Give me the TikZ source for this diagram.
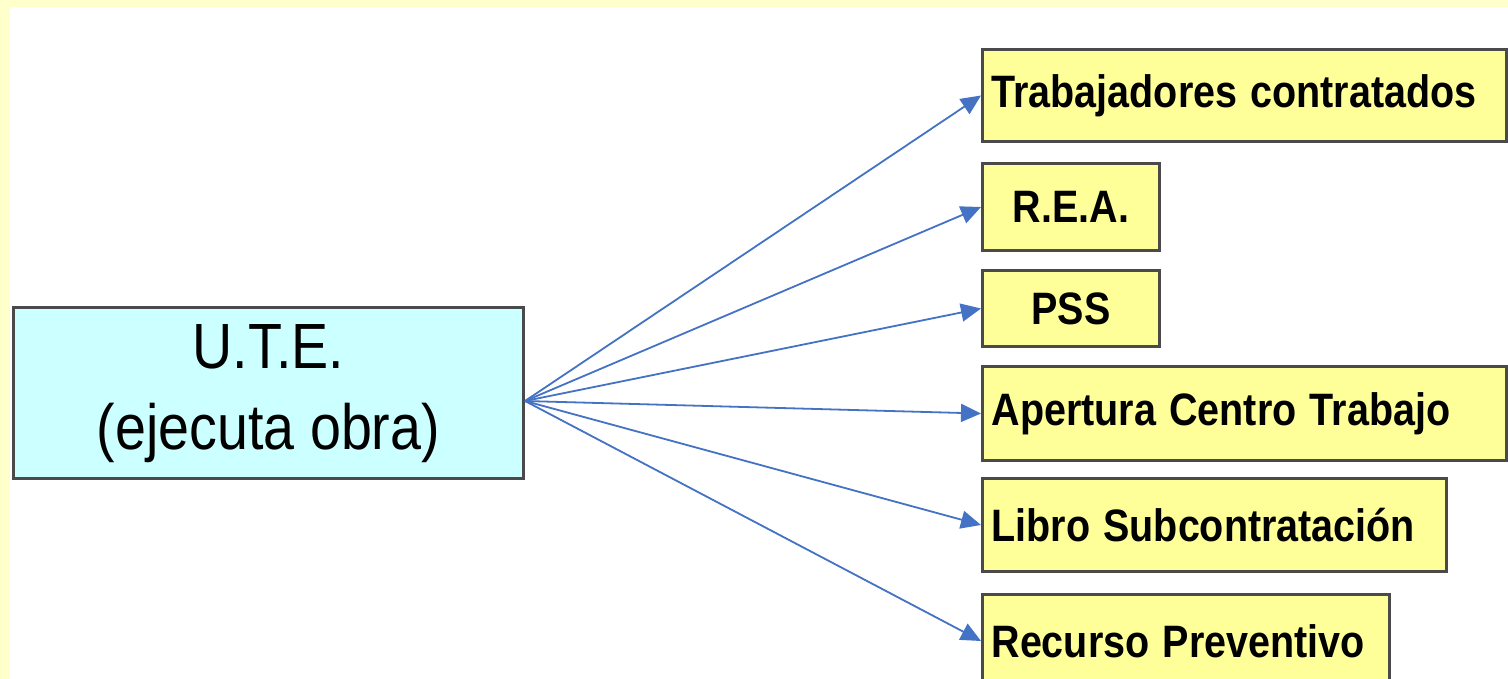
\documentclass[tikz,border=0pt]{standalone}
\usepackage{fontspec}
\setmainfont{Liberation Sans}
\usepackage{graphicx}
\usetikzlibrary{arrows.meta,calc}
\definecolor{cream}{HTML}{FFFFCC}
\definecolor{yfill}{HTML}{FFFF99}
\definecolor{cfill}{HTML}{CCFFFF}
\definecolor{boxline}{HTML}{4A4A4A}
\definecolor{arrblue}{HTML}{4472C4}
\newcommand\vst[1]{\scalebox{1}[1.15]{#1}}
\begin{document}
\begin{tikzpicture}[x=1pt,y=-1pt,
  ybox/.style={draw=boxline, line width=3pt, fill=yfill, anchor=north west,
    inner xsep=9pt, inner ysep=0pt, font=\fontsize{39.5}{40}\selectfont\bfseries},
  cbox/.style={draw=boxline, line width=3pt, fill=cfill, anchor=north west,
    inner sep=0pt, font=\fontsize{55.6}{70}\selectfont},
  arr/.style={draw=arrblue, line width=1.8pt, -{Triangle[length=20pt,width=18pt]}}]
\useasboundingbox (0,0) rectangle (1508,679);
\clip (0,0) rectangle (1508,679);
\fill[cream] (0,0) rectangle (1508,679);
\fill[white] (10,7) rectangle (1508,679);

\node[cbox, minimum width=510pt, minimum height=171pt] (u) at (12,306)
  {\vst{\begin{tabular}{@{}c@{}}U.T.E.\\(ejecuta obra)\end{tabular}}};

\node[ybox, minimum width=524pt, minimum height=92pt, text width=506pt, align=left] (t) at (981,48)
  {\vst{Trabajadores contratados}};
\node[ybox, minimum width=177pt, minimum height=87pt] (r) at (981,162) {\vst{R.E.A.}};
\node[ybox, minimum width=177pt, minimum height=76pt] (p) at (981,269) {\vst{PSS}};
\node[ybox, minimum width=524pt, minimum height=94pt, text width=506pt, align=left] (a) at (981,365)
  {\vst{Apertura Centro Trabajo}};
\node[ybox, minimum width=464pt, minimum height=93pt, text width=446pt, align=left] (l) at (981,477)
  {\vst{Libro Subcontratación}};
\node[ybox, minimum width=407pt, minimum height=93pt, text width=389pt, align=left] (c) at (981,593)
  {\vst{Recurso Preventivo}};

\coordinate (o) at ($(u.east)+(0,8)$);
\foreach \n in {t,r,p,a,l,c} \draw[arr] (o) -- (\n.west);
\end{tikzpicture}
\end{document}
